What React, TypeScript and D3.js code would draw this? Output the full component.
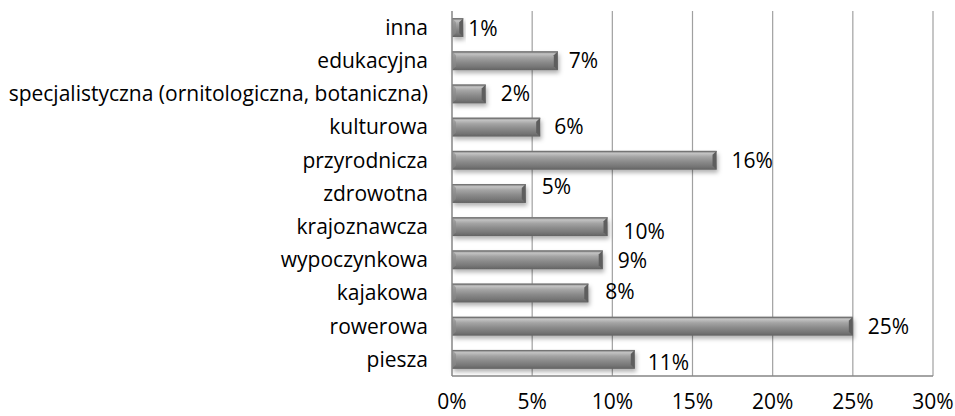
import React, { useEffect, useRef } from "react";
import * as d3 from "d3";

const categories = [
  "inna",
  "edukacyjna",
  "specjalistyczna (ornitologiczna, botaniczna)",
  "kulturowa",
  "przyrodnicza",
  "zdrowotna",
  "krajoznawcza",
  "wypoczynkowa",
  "kajakowa",
  "rowerowa",
  "piesza",
];
// bar lengths in percent
const values = [0.7, 6.6, 2.1, 5.5, 16.5, 4.6, 9.7, 9.4, 8.5, 25.0, 11.4];
// labels as printed on the chart
const valueLabels = ["1%", "7%", "2%", "6%", "16%", "5%", "10%", "9%", "8%", "25%", "11%"];
const xTicks = [0, 5, 10, 15, 20, 25, 30];

const App = () => {
  const ref = useRef<SVGSVGElement>(null);

  useEffect(() => {
    const width = 955;
    const height = 416;
    const margin = { top: 11, right: 22, bottom: 40, left: 452 };

    const svg = d3.select(ref.current);
    svg.selectAll("*").remove();
    svg.attr("width", width).attr("height", height);

    const font = "'Open Sans', sans-serif";
    const fontSize = "21px";

    const x = d3
      .scaleLinear()
      .domain([0, 30])
      .range([margin.left, width - margin.right]);

    const y = d3
      .scaleBand()
      .domain(categories)
      .range([margin.top, height - margin.bottom])
      .paddingInner(0.43)
      .paddingOuter(0.215);

    const defs = svg.append("defs");
    const grad = defs
      .append("linearGradient")
      .attr("id", "barGrad")
      .attr("x1", 0)
      .attr("y1", 0)
      .attr("x2", 0)
      .attr("y2", 1);
    [
      ["0%", "#868686"],
      ["14%", "#c2c2c2"],
      ["32%", "#a4a4a4"],
      ["58%", "#8a8a8a"],
      ["82%", "#767676"],
      ["100%", "#626262"],
    ].forEach(([o, c]) => grad.append("stop").attr("offset", o).attr("stop-color", c));

    const shadow = defs
      .append("filter")
      .attr("id", "shadow")
      .attr("x", "-10%")
      .attr("y", "-50%")
      .attr("width", "130%")
      .attr("height", "250%");
    shadow
      .append("feDropShadow")
      .attr("dx", 1.5)
      .attr("dy", 3)
      .attr("stdDeviation", 2)
      .attr("flood-color", "#000")
      .attr("flood-opacity", 0.3);

    // gridlines
    svg
      .append("g")
      .selectAll("line")
      .data(xTicks.slice(1))
      .enter()
      .append("line")
      .attr("x1", (d) => x(d))
      .attr("x2", (d) => x(d))
      .attr("y1", margin.top)
      .attr("y2", height - margin.bottom)
      .attr("stroke", "#a0a0a0")
      .attr("stroke-width", 1.2);

    // bars
    const bh = y.bandwidth();
    const bars = svg
      .append("g")
      .selectAll("g")
      .data(categories)
      .enter()
      .append("g");

    bars
      .append("rect")
      .attr("x", x(0))
      .attr("y", (d) => y(d)!)
      .attr("width", (d, i) => x(values[i]) - x(0))
      .attr("height", bh)
      .attr("fill", "url(#barGrad)")
      .attr("filter", "url(#shadow)");

    // bevel on the right end
    bars
      .append("path")
      .attr("d", (d, i) => {
        const x1 = x(values[i]);
        const y0 = y(d)!;
        const b = Math.min(4, (x1 - x(0)) / 2);
        return `M${x1},${y0} L${x1},${y0 + bh} L${x1 - b},${y0 + bh - b} L${x1 - b},${y0 + b} Z`;
      })
      .attr("fill", "#5e5e5e");

    // dark top edge and left bevel
    bars
      .append("rect")
      .attr("x", x(0))
      .attr("y", (d) => y(d)!)
      .attr("width", (d, i) => x(values[i]) - x(0))
      .attr("height", 1.2)
      .attr("fill", "#747474");
    bars
      .append("path")
      .attr("d", (d, i) => {
        const x1 = x(values[i]);
        const y0 = y(d)!;
        const b = Math.min(4, (x1 - x(0)) / 2);
        return `M${x(0)},${y0} L${x(0) + b},${y0 + b} L${x(0) + b},${y0 + bh - b} L${x(0)},${y0 + bh} Z`;
      })
      .attr("fill", "#8a8a8a")
      .attr("opacity", 0.6);

    // axis lines
    svg
      .append("line")
      .attr("x1", x(0))
      .attr("x2", x(0))
      .attr("y1", margin.top)
      .attr("y2", height - margin.bottom)
      .attr("stroke", "#868686")
      .attr("stroke-width", 1.5);
    svg
      .append("line")
      .attr("x1", x(0))
      .attr("x2", x(30))
      .attr("y1", height - margin.bottom)
      .attr("y2", height - margin.bottom)
      .attr("stroke", "#868686")
      .attr("stroke-width", 1.5);

    // category labels
    svg
      .append("g")
      .selectAll("text")
      .data(categories)
      .enter()
      .append("text")
      .attr("x", x(0) - 24)
      .attr("y", (d) => y(d)! + bh / 2)
      .attr("dy", "0.35em")
      .attr("text-anchor", "end")
      .style("font-family", font)
      .style("font-size", fontSize)
      .style("fill", "#000")
      .text((d) => d);

    // value labels (some were nudged in the original)
    const nudgeX = [-10, -4, 0, -1, 0, 1, 1, 0, 2, 0, -2];
    const nudgeY = [1, 0, 0, 0, 0, -7, 5, 1, -1, 0, 3];
    svg
      .append("g")
      .selectAll("text")
      .data(valueLabels)
      .enter()
      .append("text")
      .attr("x", (d, i) => x(values[i]) + 15 + nudgeX[i])
      .attr("y", (d, i) => y(categories[i])! + bh / 2 + nudgeY[i])
      .attr("dy", "0.35em")
      .style("font-family", font)
      .style("font-size", fontSize)
      .style("fill", "#000")
      .text((d) => d);

    // x tick labels
    svg
      .append("g")
      .selectAll("text")
      .data(xTicks)
      .enter()
      .append("text")
      .attr("x", (d) => x(d))
      .attr("y", height - margin.bottom + 26)
      .attr("dy", "0.35em")
      .attr("text-anchor", "middle")
      .style("font-family", font)
      .style("font-size", fontSize)
      .style("fill", "#000")
      .text((d) => d + "%");
  }, []);

  return (
    <div style={{ position: "absolute", left: 0, top: 0 }}>
      <svg ref={ref}></svg>
    </div>
  );
};

export default App;
